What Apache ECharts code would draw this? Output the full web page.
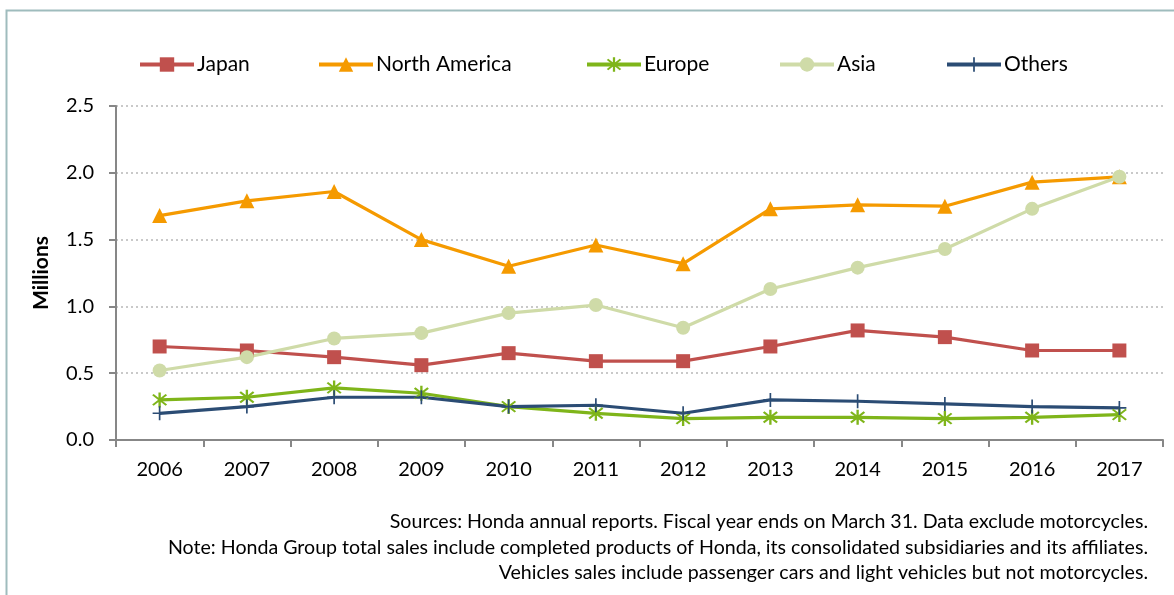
<!DOCTYPE html>
<html>
<head>
<meta charset="utf-8">
<script src="https://cdn.jsdelivr.net/npm/echarts@6/dist/echarts.min.js"></script>
<style>
html,body{margin:0;padding:0;background:#fff;}
#chart{width:1174px;height:595px;}
</style>
</head>
<body>
<div id="chart"></div>
<script>
const years = ['2006','2007','2008','2009','2010','2011','2012','2013','2014','2015','2016','2017'];
const japan = [0.70,0.67,0.62,0.56,0.65,0.59,0.59,0.70,0.82,0.77,0.67,0.67];
const northAmerica = [1.68,1.79,1.86,1.50,1.30,1.46,1.32,1.73,1.76,1.75,1.93,1.97];
const europe = [0.30,0.32,0.39,0.35,0.25,0.20,0.16,0.17,0.17,0.16,0.17,0.19];
const asia = [0.52,0.62,0.76,0.80,0.95,1.01,0.84,1.13,1.29,1.43,1.73,1.97];
const others = [0.20,0.25,0.32,0.32,0.25,0.26,0.20,0.30,0.29,0.27,0.25,0.24];
const yTicks = ['0.0','0.5','1.0','1.5','2.0','2.5'];
const notes = [
  'Sources: Honda annual reports. Fiscal year ends on March 31. Data exclude motorcycles.',
  'Note: Honda Group total sales include completed products of Honda, its consolidated subsidiaries and its affiliates.',
  'Vehicles sales include passenger cars and light vehicles but not motorcycles.'
];

const FONT = 'Lato, "Open Sans", sans-serif';
const asterisk = 'path://M8.6 0 L11.4 0 L11.4 20 L8.6 20 Z M1.1 3.9 L2.9 2.1 L18.9 16.1 L17.1 17.9 Z M17.1 2.1 L18.9 3.9 L2.9 17.9 L1.1 16.1 Z';
const plus = 'path://M8.8 0 L11.2 0 L11.2 20 L8.8 20 Z M0 8.8 L20 8.8 L20 11.2 L0 11.2 Z';

const defs = [
  {name:'Japan', data:japan, color:'#C0504D', symbol:'rect', size:14, left:138},
  {name:'North America', data:northAmerica, color:'#F59A00', symbol:'triangle', size:15, left:317},
  {name:'Europe', data:europe, color:'#7FB51A', symbol:asterisk, size:15, left:585},
  {name:'Asia', data:asia, color:'#CFDBA8', symbol:'circle', size:14, left:778},
  {name:'Others', data:others, color:'#2B4C74', symbol:plus, size:14, left:945}
];

const chart = echarts.init(document.getElementById('chart'));
const option = {
  animation:false,
  backgroundColor:'#fff',
  grid:{left:116, right:11, top:106, bottom:155},
  legend: defs.map(d => ({
    data:[d.name], left:d.left, top:54, padding:0, itemWidth:54, itemHeight:18, itemGap:4,
    lineStyle:{width:4},
    textStyle:{fontFamily:FONT, fontSize:21, color:'#000', padding:[0,0,0,-2]}
  })),
  xAxis:{
    type:'category', data:years, boundaryGap:true,
    axisLine:{lineStyle:{color:'#878787', width:2}},
    axisTick:{show:true, length:7, lineStyle:{color:'#878787', width:2}},
    axisLabel:{fontFamily:FONT, fontSize:20, color:'#000', margin:20}
  },
  yAxis:{
    type:'value', min:0, max:2.5, interval:0.5,
    name:'Millions', nameLocation:'middle', nameRotate:90, nameGap:64,
    nameTextStyle:{fontFamily:FONT, fontSize:21, fontWeight:'bold', color:'#000'},
    axisLine:{show:true, lineStyle:{color:'#878787', width:2}},
    axisTick:{show:true, length:7, lineStyle:{color:'#878787', width:2}},
    axisLabel:{fontFamily:FONT, fontSize:20, color:'#000', margin:22,
      formatter:(v,i)=>yTicks[i] !== undefined ? yTicks[i] : v.toFixed(1)},
    splitLine:{show:true, lineStyle:{color:'#c9c9c9', width:2, type:[2,3]}}
  },
  series: defs.map(d => ({
    name:d.name, type:'line', data:d.data,
    symbol:d.symbol, symbolSize:d.size, showAllSymbol:true,
    lineStyle:{color:d.color, width:3.2},
    itemStyle:{color:d.color, borderWidth:0},
    emphasis:{disabled:true}
  })),
  graphic:[
    {type:'rect', shape:{x:6.5, y:10.5, width:1200, height:700}, style:{fill:'none', stroke:'#9fbcbd', lineWidth:2}, silent:true, z:-1},
    ...notes.map((t,i)=>({
      type:'text', right:26, top:512 + i*25.5,
      style:{text:t, fontFamily:FONT, fontSize:19.6, fill:'#000', textAlign:'right'}
    }))
  ]
};
chart.setOption(option);
</script>
</body>
</html>
